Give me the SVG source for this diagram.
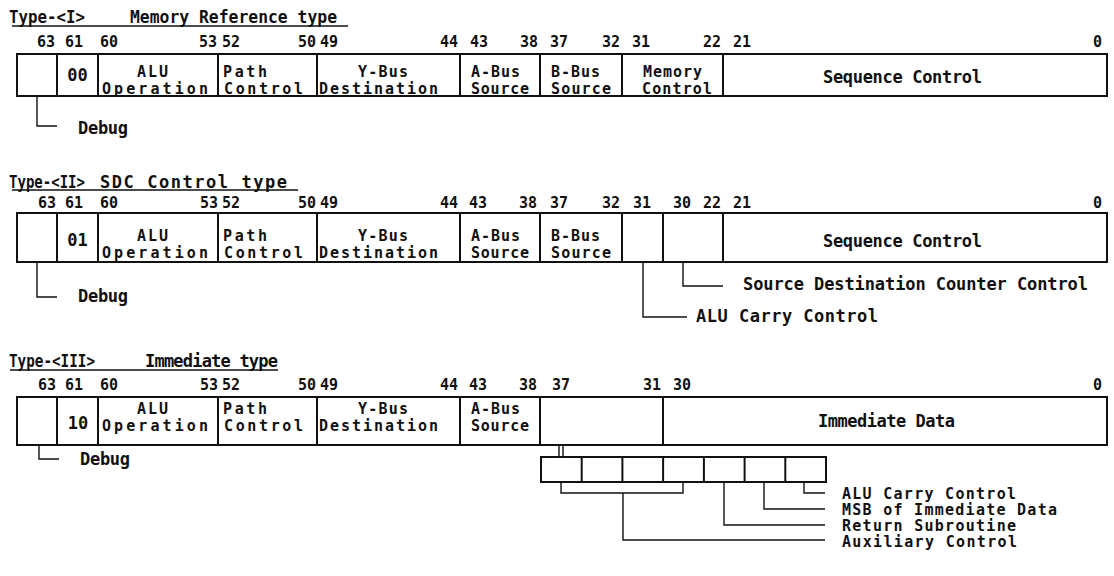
<svg xmlns="http://www.w3.org/2000/svg" width="1114" height="576" viewBox="0 0 1114 576">
<style>
.t{font-family:"DejaVu Sans Mono","Liberation Mono",monospace;font-size:17px;fill:#111;font-weight:bold}
.s{font-family:"DejaVu Sans Mono","Liberation Mono",monospace;font-size:15px;fill:#111;font-weight:bold}
.n{font-family:"DejaVu Sans Mono","Liberation Mono",monospace;font-size:15px;fill:#111;font-weight:bold}
.m{text-anchor:middle}
.box{fill:none;stroke:#111;stroke-width:2}
.ln{fill:none;stroke:#111;stroke-width:1.4}
</style>
<rect width="1114" height="576" fill="#fff"/>

<!-- ===== Type I ===== -->
<g id="type1-title">
<text class="t" x="9" y="23" textLength="76" lengthAdjust="spacingAndGlyphs">Type-&lt;I&gt;</text>
<text class="t" x="130" y="23" textLength="207" lengthAdjust="spacingAndGlyphs">Memory Reference type</text>
<line class="ln" x1="12" y1="26" x2="348" y2="26"/>
</g>
<g id="type1-bits">
<text class="n" x="37" y="47">63</text><text class="n" x="65" y="47">61</text>
<text class="n" x="100" y="47">60</text><text class="n" x="199" y="47">53</text>
<text class="n" x="222" y="47">52</text><text class="n" x="298" y="47">50</text>
<text class="n" x="320" y="47">49</text><text class="n" x="440" y="47">44</text>
<text class="n" x="470" y="47">43</text><text class="n" x="520" y="47">38</text>
<text class="n" x="550" y="47">37</text><text class="n" x="602" y="47">32</text>
<text class="n" x="632" y="47">31</text><text class="n" x="703" y="47">22</text>
<text class="n" x="733" y="47">21</text><text class="n" x="1093" y="47">0</text>
</g>
<g id="type1-word">
<rect class="box" x="17" y="54" width="1090" height="42"/>
<g id="t1-debug"><line class="box" x1="57" y1="54" x2="57" y2="96"/></g>
<g id="t1-type"><line class="box" x1="98" y1="54" x2="98" y2="96"/><text class="t m" x="77.5" y="81">00</text></g>
<g id="t1-alu"><line class="box" x1="218" y1="54" x2="218" y2="96"/><text class="s" x="137" y="77" textLength="31">ALU</text><text class="s" x="102" y="94" textLength="106" lengthAdjust="spacing">Operation</text></g>
<g id="t1-path"><line class="box" x1="317" y1="54" x2="317" y2="96"/><text class="s" x="223" y="77" textLength="44">Path</text><text class="s" x="224" y="94" textLength="79" lengthAdjust="spacing">Control</text></g>
<g id="t1-ybus"><line class="box" x1="460" y1="54" x2="460" y2="96"/><text class="s" x="358" y="77" textLength="50">Y-Bus</text><text class="s" x="319" y="94" textLength="119" lengthAdjust="spacing">Destination</text></g>
<g id="t1-abus"><line class="box" x1="540" y1="54" x2="540" y2="96"/><text class="s" x="471" y="77" textLength="49">A-Bus</text><text class="s" x="471" y="94" textLength="58">Source</text></g>
<g id="t1-bbus"><line class="box" x1="622" y1="54" x2="622" y2="96"/><text class="s" x="551" y="77" textLength="49">B-Bus</text><text class="s" x="551" y="94" textLength="60">Source</text></g>
<g id="t1-mem"><line class="box" x1="723" y1="54" x2="723" y2="96"/><text class="s" x="643" y="77" textLength="59">Memory</text><text class="s" x="642" y="94" textLength="70">Control</text></g>
<g id="t1-seq"><text class="t" x="823" y="83" textLength="159">Sequence Control</text></g>
</g>
<g id="t1-debug-label"><text class="t" x="78" y="134" textLength="50">Debug</text></g>

<!-- ===== Type II ===== -->
<g id="type2-title">
<text class="t" x="9" y="188" textLength="76" lengthAdjust="spacingAndGlyphs">Type-&lt;II&gt;</text>
<text class="t" x="100" y="188" textLength="187" lengthAdjust="spacing">SDC Control type</text>
<line class="ln" x1="12" y1="190" x2="298" y2="190"/>
</g>
<g id="type2-bits">
<text class="n" x="38" y="208">63</text><text class="n" x="65" y="208">61</text>
<text class="n" x="100" y="208">60</text><text class="n" x="200" y="208">53</text>
<text class="n" x="222" y="208">52</text><text class="n" x="298" y="208">50</text>
<text class="n" x="320" y="208">49</text><text class="n" x="440" y="208">44</text>
<text class="n" x="469" y="208">43</text><text class="n" x="519" y="208">38</text>
<text class="n" x="550" y="208">37</text><text class="n" x="602" y="208">32</text>
<text class="n" x="633" y="208">31</text><text class="n" x="673" y="208">30</text>
<text class="n" x="703" y="208">22</text><text class="n" x="733" y="208">21</text>
<text class="n" x="1093" y="208">0</text>
</g>
<g id="type2-word">
<rect class="box" x="17" y="213" width="1090" height="49"/>
<g id="t2-debug"><line class="box" x1="57" y1="213" x2="57" y2="262"/></g>
<g id="t2-type"><line class="box" x1="98" y1="213" x2="98" y2="262"/><text class="t m" x="77.5" y="246">01</text></g>
<g id="t2-alu"><line class="box" x1="218" y1="213" x2="218" y2="262"/><text class="s" x="137" y="241" textLength="31">ALU</text><text class="s" x="102" y="258" textLength="106" lengthAdjust="spacing">Operation</text></g>
<g id="t2-path"><line class="box" x1="317" y1="213" x2="317" y2="262"/><text class="s" x="223" y="241" textLength="44">Path</text><text class="s" x="224" y="258" textLength="79" lengthAdjust="spacing">Control</text></g>
<g id="t2-ybus"><line class="box" x1="460" y1="213" x2="460" y2="262"/><text class="s" x="358" y="241" textLength="50">Y-Bus</text><text class="s" x="319" y="258" textLength="119" lengthAdjust="spacing">Destination</text></g>
<g id="t2-abus"><line class="box" x1="540" y1="213" x2="540" y2="262"/><text class="s" x="471" y="241" textLength="49">A-Bus</text><text class="s" x="471" y="258" textLength="58">Source</text></g>
<g id="t2-bbus"><line class="box" x1="622" y1="213" x2="622" y2="262"/><text class="s" x="551" y="241" textLength="49">B-Bus</text><text class="s" x="551" y="258" textLength="60">Source</text></g>
<g id="t2-carry"><line class="box" x1="663" y1="213" x2="663" y2="262"/></g>
<g id="t2-sdc"><line class="box" x1="723" y1="213" x2="723" y2="262"/></g>
<g id="t2-seq"><text class="t" x="823" y="247" textLength="159">Sequence Control</text></g>
</g>
<g id="t2-labels">
<text class="t" x="78" y="302" textLength="50">Debug</text>
<text class="t" x="743" y="290" textLength="345">Source Destination Counter Control</text>
<text class="t" x="696" y="322" textLength="182">ALU Carry Control</text>
</g>

<!-- ===== Type III ===== -->
<g id="type3-title">
<text class="t" x="9" y="367" textLength="86" lengthAdjust="spacingAndGlyphs">Type-&lt;III&gt;</text>
<text class="t" x="145" y="367" textLength="133" lengthAdjust="spacing">Immediate type</text>
<line class="ln" x1="10" y1="370" x2="278" y2="370"/>
</g>
<g id="type3-bits">
<text class="n" x="38" y="390">63</text><text class="n" x="65" y="390">61</text>
<text class="n" x="100" y="390">60</text><text class="n" x="200" y="390">53</text>
<text class="n" x="222" y="390">52</text><text class="n" x="298" y="390">50</text>
<text class="n" x="320" y="390">49</text><text class="n" x="440" y="390">44</text>
<text class="n" x="469" y="390">43</text><text class="n" x="519" y="390">38</text>
<text class="n" x="552" y="390">37</text><text class="n" x="643" y="390">31</text>
<text class="n" x="673" y="390">30</text><text class="n" x="1093" y="390">0</text>
</g>
<g id="type3-word">
<rect class="box" x="17" y="397" width="1090" height="48"/>
<g id="t3-debug"><line class="box" x1="57" y1="397" x2="57" y2="445"/></g>
<g id="t3-type"><line class="box" x1="98" y1="397" x2="98" y2="445"/><text class="t m" x="78" y="429">10</text></g>
<g id="t3-alu"><line class="box" x1="218" y1="397" x2="218" y2="445"/><text class="s" x="137" y="414" textLength="31">ALU</text><text class="s" x="102" y="431" textLength="106" lengthAdjust="spacing">Operation</text></g>
<g id="t3-path"><line class="box" x1="317" y1="397" x2="317" y2="445"/><text class="s" x="223" y="414" textLength="44">Path</text><text class="s" x="224" y="431" textLength="79" lengthAdjust="spacing">Control</text></g>
<g id="t3-ybus"><line class="box" x1="460" y1="397" x2="460" y2="445"/><text class="s" x="358" y="414" textLength="50">Y-Bus</text><text class="s" x="319" y="431" textLength="119" lengthAdjust="spacing">Destination</text></g>
<g id="t3-abus"><line class="box" x1="540" y1="397" x2="540" y2="445"/><text class="s" x="471" y="414" textLength="49">A-Bus</text><text class="s" x="471" y="431" textLength="58">Source</text></g>
<g id="t3-aux"><line class="box" x1="663" y1="397" x2="663" y2="445"/></g>
<g id="t3-imm"><text class="t" x="818" y="427" textLength="137">Immediate Data</text></g>
</g>
<g id="t3-subfield">
<rect class="box" x="541" y="457" width="285" height="25"/>
<line class="box" x1="581.7" y1="457" x2="581.7" y2="482"/>
<line class="box" x1="622.4" y1="457" x2="622.4" y2="482"/>
<line class="box" x1="663.1" y1="457" x2="663.1" y2="482"/>
<line class="box" x1="703.9" y1="457" x2="703.9" y2="482"/>
<line class="box" x1="744.6" y1="457" x2="744.6" y2="482"/>
<line class="box" x1="785.3" y1="457" x2="785.3" y2="482"/>
</g>
<g id="t3-labels">
<text class="t" x="80" y="465" textLength="50">Debug</text>
<text class="s" x="842" y="499" textLength="174">ALU Carry Control</text>
<text class="s" x="842" y="515" textLength="215">MSB of Immediate Data</text>
<text class="s" x="842" y="531" textLength="174">Return Subroutine</text>
<text class="s" x="842" y="547" textLength="175">Auxiliary Control</text>
</g>

<!-- ===== Connectors ===== -->
<g id="connectors" class="ln">
<path d="M37 96 V126 H57"/>
<path d="M37 262 V297 H57"/>
<path d="M643 262 V317 H687"/>
<path d="M683 262 V286 H723"/>
<path d="M39 445 V459 H59"/>
<path d="M559 445 V457 M563 445 V457"/>
<path d="M561 482 V493 H683 V482"/>
<path d="M623 493 V540 H825"/>
<path d="M724 482 V525 H825"/>
<path d="M764 482 V509 H825"/>
<path d="M804 482 V493 H825"/>
</g>
</svg>
